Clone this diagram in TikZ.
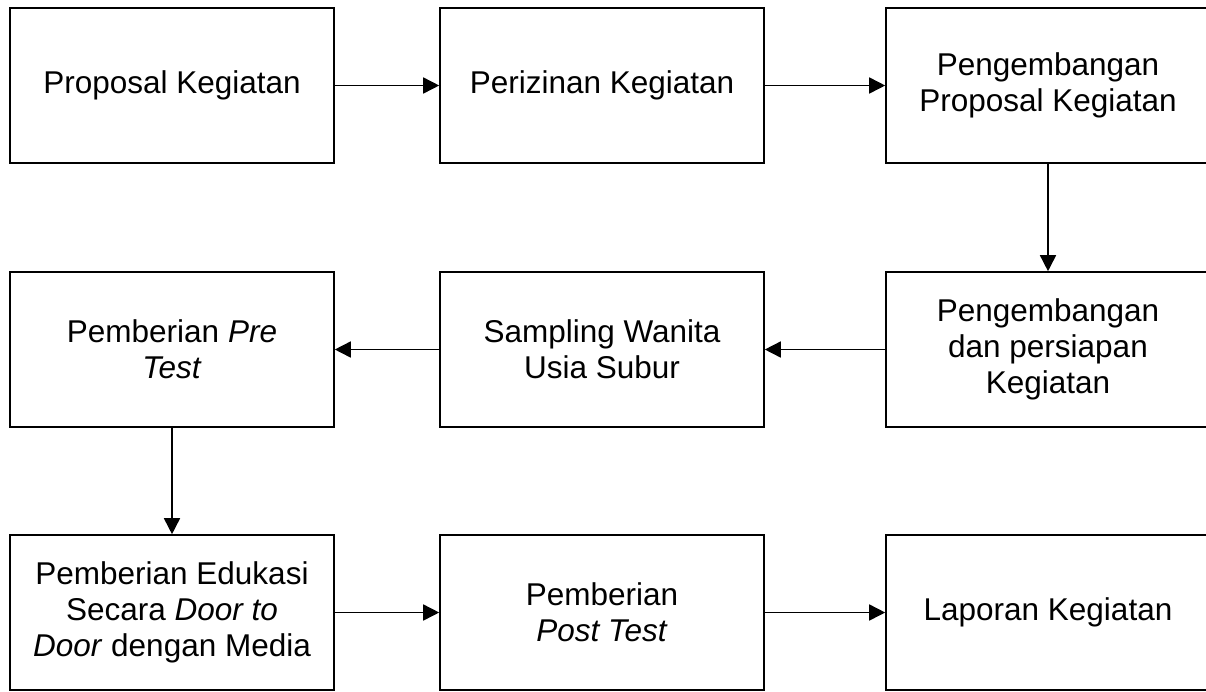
\documentclass[tikz,border=0pt]{standalone}
\usepackage{fontspec}
\setmainfont{Liberation Sans}
\usetikzlibrary{arrows.meta}
\begin{document}
\begin{tikzpicture}[x=1pt,y=-1pt,
  box/.style={draw=black, line width=1.6pt, rectangle, minimum width=324pt, minimum height=155pt,
    align=center, inner sep=0pt, font=\fontsize{31.5}{36}\selectfont},
  conn/.style={draw=black, line width=1.6pt, -{Triangle[length=16pt,width=16pt]}}]
\useasboundingbox (0,0) rectangle (1206,691);
\node[box] (a1) at (172,85.5) {Proposal Kegiatan};
\node[box] (b1) at (602,85.5) {Perizinan Kegiatan};
\node[box] (c1) at (1048,85.5) {Pengembangan\\Proposal Kegiatan};
\node[box] (c2) at (1048,349.5) {Pengembangan\\dan persiapan\\Kegiatan};
\node[box] (b2) at (602,349.5) {Sampling Wanita\\Usia Subur};
\node[box] (a2) at (172,349.5) {Pemberian \textit{Pre}\\\textit{Test}};
\node[box] (a3) at (172,612.5) {Pemberian Edukasi\\Secara \textit{Door to}\\\textit{Door} dengan Media};
\node[box] (b3) at (602,612.5) {Pemberian\\\textit{Post Test}};
\node[box] (c3) at (1048,612.5) {Laporan Kegiatan};
\draw[conn] (a1) -- (b1);
\draw[conn] (b1) -- (c1);
\draw[conn] (c1) -- (c2);
\draw[conn] (c2) -- (b2);
\draw[conn] (b2) -- (a2);
\draw[conn] (a2) -- (a3);
\draw[conn] (a3) -- (b3);
\draw[conn] (b3) -- (c3);
\end{tikzpicture}
\end{document}
